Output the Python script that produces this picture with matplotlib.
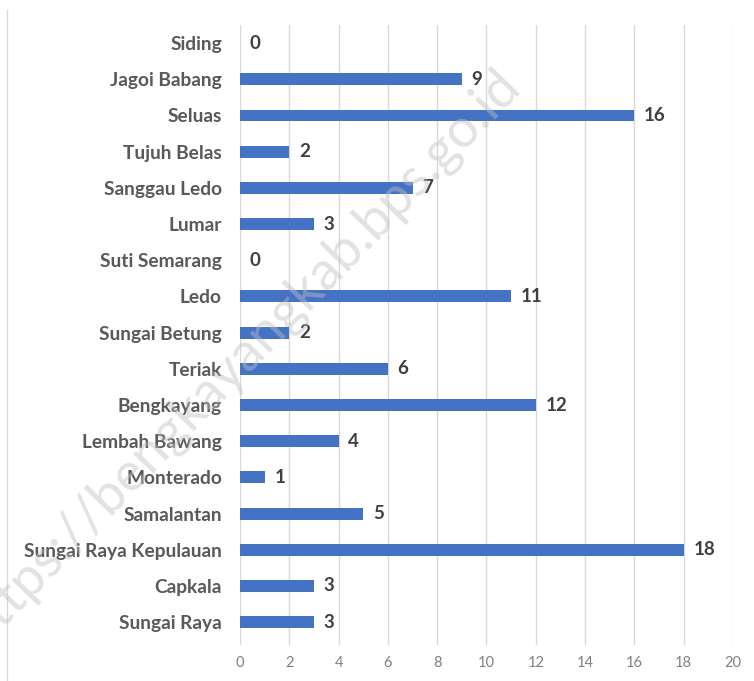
import matplotlib.pyplot as plt
from matplotlib.lines import Line2D

# kecamatan, dari bawah ke atas
kecamatan = ["Sungai Raya", "Capkala", "Sungai Raya Kepulauan", "Samalantan",
             "Monterado", "Lembah Bawang", "Bengkayang", "Teriak",
             "Sungai Betung", "Ledo", "Suti Semarang", "Lumar",
             "Sanggau Ledo", "Tujuh Belas", "Seluas", "Jagoi Babang", "Siding"]
jumlah = [3, 3, 18, 5, 1, 4, 12, 6, 2, 11, 0, 3, 7, 2, 16, 9, 0]
xticks = [0, 2, 4, 6, 8, 10, 12, 14, 16, 18, 20]


def main():
    plt.rcParams['font.family'] = ['Lato', 'DejaVu Sans']
    fig = plt.figure(figsize=(7.54, 6.81), dpi=100)
    ax = fig.add_axes([0.3183, 0.0529, 0.9721 - 0.3183, 0.9633 - 0.0529])

    pos = list(range(len(kecamatan)))
    ax.barh(pos, jumlah, height=0.33, color="#4472C4", zorder=3)
    for p, v in zip(pos, jumlah):
        ax.annotate(str(v), (v, p), xytext=(7, 0), textcoords="offset points",
                    ha="left", va="center", fontsize=13.5, fontweight="bold",
                    color="#404040")

    ax.set_xlim(0, 20)
    ax.set_ylim(-0.63, 16.5)
    ax.set_xticks(xticks)
    ax.set_yticks(pos)
    ax.set_yticklabels(kecamatan, fontsize=13.8, fontweight="bold", color="#595959")
    ax.tick_params(axis="x", length=0, labelsize=10.5, labelcolor="#808080", pad=8)
    ax.tick_params(axis="y", length=0, pad=13)
    ax.grid(axis="x", color="#D9D9D9", linewidth=1, zorder=0)
    for s in ax.spines.values():
        s.set_visible(False)

    fig.add_artist(Line2D([7 / 754, 7 / 754], [0, 1 - 10 / 681],
                          transform=fig.transFigure, color="#D9D9D9", linewidth=1))

    # watermark, terpotong di tepi kiri seperti aslinya
    fig.text(0.318, 0.475, "https://bengkayangkab.bps.go.id", fontsize=39,
             rotation=46, ha="center", va="center", color="#C0C0C0", alpha=0.45,
             zorder=10)

    fig.savefig("out.png", dpi=100)


if __name__ == '__main__':
    main()
